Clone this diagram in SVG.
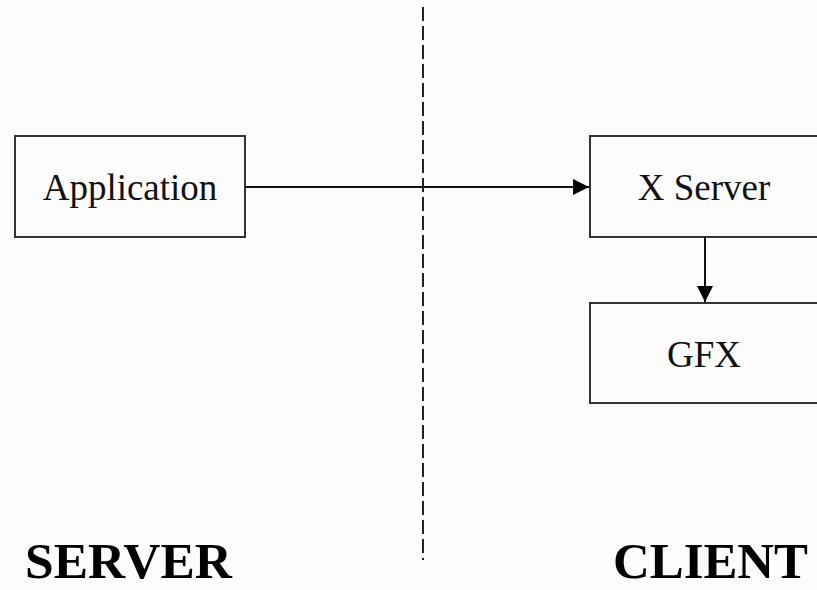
<svg xmlns="http://www.w3.org/2000/svg" width="817" height="590" viewBox="0 0 817 590">
<style>
.box{fill:#fcfcfc;stroke:#333;stroke-width:2}
.lbl{font-family:"Liberation Serif",serif;font-size:37px;fill:#111;text-anchor:middle}
.big{font-family:"Liberation Serif",serif;font-size:51px;font-weight:bold;fill:#000}
.conn{stroke:#111;stroke-width:2;fill:none}
</style>
<defs>
<marker id="ah" markerWidth="16" markerHeight="16" refX="16" refY="8" orient="auto" markerUnits="userSpaceOnUse">
<path d="M0,0 L16,8 L0,16 Z" fill="#000"/>
</marker>
</defs>
<rect width="817" height="590" fill="#fcfcfc"/>
<line x1="423" y1="7" x2="423" y2="560" stroke="#222" stroke-width="2" stroke-dasharray="14,5"/>
<g id="application">
<rect class="box" x="15" y="136" width="230" height="101"/>
<text class="lbl" x="130" y="200">Application</text>
</g>
<g id="xserver">
<rect class="box" x="590" y="136" width="240" height="101"/>
<text class="lbl" x="704" y="200">X Server</text>
</g>
<g id="gfx">
<rect class="box" x="590" y="303" width="240" height="100"/>
<text class="lbl" x="704" y="367">GFX</text>
</g>
<g id="connectors">
<line class="conn" x1="245" y1="187" x2="589" y2="187" marker-end="url(#ah)"/>
<line class="conn" x1="705" y1="237" x2="705" y2="302" marker-end="url(#ah)"/>
</g>
<text class="big" x="25" y="578" textLength="207" lengthAdjust="spacingAndGlyphs">SERVER</text>
<text class="big" x="613" y="578" textLength="195" lengthAdjust="spacingAndGlyphs">CLIENT</text>
</svg>
